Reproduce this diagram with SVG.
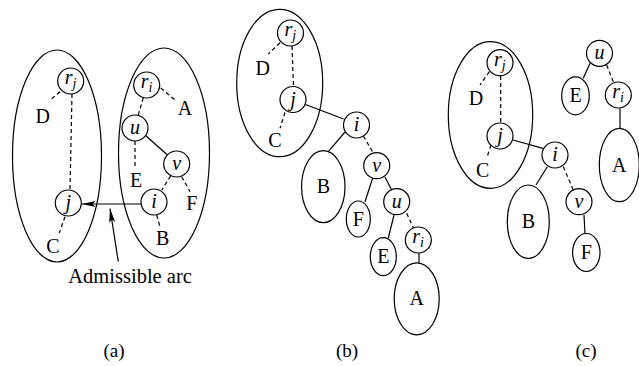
<svg xmlns="http://www.w3.org/2000/svg" width="639" height="366" viewBox="0 0 639 366">
<style>
.sh{fill:none;stroke:#000;stroke-width:1.2}
.nd{fill:#fff;stroke:#000;stroke-width:1.2}
.s{stroke:#000;stroke-width:1.2;fill:none}
.d{stroke:#000;stroke-width:1.2;fill:none;stroke-dasharray:4,3}
.t{font-family:"Liberation Serif","Times New Roman",serif;font-size:20px;text-anchor:middle;fill:#000}
.it{font-family:"Liberation Serif","Times New Roman",serif;font-size:20px;font-style:italic;fill:#000}
.sub{font-size:14px}
.cap{font-family:"Liberation Serif","Times New Roman",serif;font-size:19px;text-anchor:middle;fill:#000}
</style>
<defs>
<marker id="ah" viewBox="0 0 14 6" refX="14" refY="3" markerWidth="14" markerHeight="6" markerUnits="userSpaceOnUse" orient="auto">
<path d="M0,0 L14,3 L0,6 L3,3 Z" fill="#000"/>
</marker>
</defs>

<!-- Panel (a) -->
<g id="a-group-left"><ellipse class="sh" cx="57" cy="156" rx="44.5" ry="106"/></g>
<g id="a-group-right"><ellipse class="sh" cx="164" cy="153" rx="45.5" ry="105"/></g>
<g id="a-connectors">
<line class="d" x1="60" y1="91.7" x2="49.3" y2="101"/>
<line class="d" x1="72" y1="94" x2="70" y2="190"/>
<line class="d" x1="65" y1="216.7" x2="59.3" y2="233"/>
<line class="d" x1="160.7" y1="88" x2="175" y2="100"/>
<line class="d" x1="143.3" y1="97.7" x2="138.3" y2="115"/>
<line class="d" x1="135" y1="141" x2="135" y2="167"/>
<line class="s" x1="145.5" y1="135.5" x2="167.5" y2="155"/>
<line class="d" x1="181.7" y1="176.7" x2="190" y2="191.7"/>
<line class="d" x1="170.7" y1="176" x2="161.7" y2="190"/>
<line class="d" x1="156.7" y1="215" x2="160" y2="227"/>
<line class="s" x1="141" y1="204" x2="81.5" y2="204" marker-end="url(#ah)"/>
<line class="s" x1="118.3" y1="261.7" x2="110" y2="208.5" marker-end="url(#ah)"/>
</g>
<g id="a-rj"><circle class="nd" cx="70.7" cy="81" r="13"/><text class="it" x="64.7" y="84">r<tspan class="sub" dy="4">j</tspan></text></g>
<g id="a-j"><circle class="nd" cx="68.3" cy="203" r="13"/><text class="it" x="68.3" y="209" text-anchor="middle">j</text></g>
<g id="a-ri"><circle class="nd" cx="146.7" cy="85" r="13"/><text class="it" x="140.7" y="88">r<tspan class="sub" dy="4">i</tspan></text></g>
<g id="a-u"><circle class="nd" cx="135" cy="128" r="13"/><text class="it" x="135" y="134" text-anchor="middle">u</text></g>
<g id="a-v"><circle class="nd" cx="176.7" cy="164" r="13"/><text class="it" x="176.7" y="170" text-anchor="middle">v</text></g>
<g id="a-i"><circle class="nd" cx="154" cy="202" r="13"/><text class="it" x="154" y="208" text-anchor="middle">i</text></g>
<g id="a-D"><text class="t" x="42.7" y="123.3">D</text></g>
<g id="a-C"><text class="t" x="53" y="252.5">C</text></g>
<g id="a-A"><text class="t" x="185" y="114.8">A</text></g>
<g id="a-E"><text class="t" x="136" y="186.8">E</text></g>
<g id="a-F"><text class="t" x="191.7" y="209.8">F</text></g>
<g id="a-B"><text class="t" x="162.7" y="244.8">B</text></g>
<text x="68.3" y="283" font-family="Liberation Serif, Times New Roman, serif" font-size="20.5">Admissible arc</text>

<!-- Panel (b) -->
<g id="b-group"><ellipse class="sh" cx="279.7" cy="83" rx="43" ry="73.7"/></g>
<g id="b-connectors">
<line class="d" x1="280" y1="42.7" x2="268.3" y2="54"/>
<line class="d" x1="292" y1="46" x2="293.5" y2="86.5"/>
<line class="d" x1="285" y1="112.5" x2="280" y2="128.3"/>
<line class="s" x1="305.5" y1="104.5" x2="343.5" y2="119"/>
<line class="s" x1="345" y1="132" x2="328.3" y2="151.7"/>
<line class="d" x1="363.3" y1="136" x2="373.3" y2="153"/>
<line class="s" x1="372.7" y1="178" x2="365" y2="201.7"/>
<line class="s" x1="385" y1="177" x2="391.7" y2="190"/>
<line class="s" x1="394" y1="215" x2="388.3" y2="238"/>
<line class="d" x1="406.7" y1="213.3" x2="413.3" y2="227.7"/>
<line class="s" x1="419" y1="253" x2="419" y2="263"/>
</g>
<g id="b-rj"><circle class="nd" cx="290.5" cy="33" r="13"/><text class="it" x="284.5" y="36">r<tspan class="sub" dy="4">j</tspan></text></g>
<g id="b-j"><circle class="nd" cx="293" cy="99.5" r="13"/><text class="it" x="293" y="105.5" text-anchor="middle">j</text></g>
<g id="b-i"><circle class="nd" cx="356.5" cy="125" r="13"/><text class="it" x="356.5" y="131" text-anchor="middle">i</text></g>
<g id="b-v"><circle class="nd" cx="376.7" cy="165.7" r="13"/><text class="it" x="376.7" y="171.7" text-anchor="middle">v</text></g>
<g id="b-u"><circle class="nd" cx="396.7" cy="201.7" r="13"/><text class="it" x="396.7" y="207.7" text-anchor="middle">u</text></g>
<g id="b-ri"><circle class="nd" cx="418.3" cy="240" r="13"/><text class="it" x="412.3" y="243">r<tspan class="sub" dy="4">i</tspan></text></g>
<g id="b-D"><text class="t" x="262.7" y="75">D</text></g>
<g id="b-C"><text class="t" x="275" y="146.6">C</text></g>
<g id="b-B"><ellipse class="nd" cx="323.3" cy="186.7" rx="21.7" ry="36"/><text class="t" x="323.3" y="193.3">B</text></g>
<g id="b-F"><ellipse class="nd" cx="358.3" cy="219" rx="12" ry="18"/><text class="t" x="358.3" y="225.6">F</text></g>
<g id="b-E"><ellipse class="nd" cx="383.3" cy="256.7" rx="13" ry="19"/><text class="t" x="383.3" y="263.3">E</text></g>
<g id="b-A"><ellipse class="nd" cx="416.7" cy="298.8" rx="22.5" ry="36"/><text class="t" x="416.7" y="305.4">A</text></g>

<!-- Panel (c) -->
<g id="c-group"><ellipse class="sh" cx="490.5" cy="115" rx="42.2" ry="73.3"/></g>
<g id="c-connectors">
<line class="d" x1="489.3" y1="71.7" x2="480" y2="85"/>
<line class="d" x1="500.7" y1="76" x2="500.7" y2="122"/>
<line class="d" x1="491" y1="145" x2="486.7" y2="158.3"/>
<line class="s" x1="513" y1="140" x2="543" y2="148.3"/>
<line class="s" x1="547.3" y1="166.7" x2="536" y2="185"/>
<line class="d" x1="563.3" y1="166.7" x2="573.3" y2="190"/>
<line class="s" x1="584" y1="215" x2="585" y2="233.3"/>
<line class="s" x1="590" y1="63.3" x2="583.3" y2="78.3"/>
<line class="d" x1="606.7" y1="65" x2="613.3" y2="81.7"/>
<line class="s" x1="620" y1="108.3" x2="620" y2="128.3"/>
</g>
<g id="c-rj"><circle class="nd" cx="500" cy="62.7" r="13"/><text class="it" x="494" y="65.7">r<tspan class="sub" dy="4">j</tspan></text></g>
<g id="c-j"><circle class="nd" cx="500" cy="136" r="13"/><text class="it" x="500" y="142" text-anchor="middle">j</text></g>
<g id="c-i"><circle class="nd" cx="555" cy="155" r="13"/><text class="it" x="555" y="161" text-anchor="middle">i</text></g>
<g id="c-v"><circle class="nd" cx="579" cy="201.7" r="13"/><text class="it" x="579" y="207.7" text-anchor="middle">v</text></g>
<g id="c-u"><circle class="nd" cx="599.5" cy="53.3" r="13"/><text class="it" x="599.5" y="59.3" text-anchor="middle">u</text></g>
<g id="c-ri"><circle class="nd" cx="618.3" cy="95" r="13"/><text class="it" x="612.3" y="98">r<tspan class="sub" dy="4">i</tspan></text></g>
<g id="c-D"><text class="t" x="476" y="104.9">D</text></g>
<g id="c-C"><text class="t" x="482.7" y="176.6">C</text></g>
<g id="c-B"><ellipse class="nd" cx="528.3" cy="221.7" rx="21" ry="36.7"/><text class="t" x="528.3" y="228.3">B</text></g>
<g id="c-F"><ellipse class="nd" cx="586.3" cy="252.5" rx="13.7" ry="19"/><text class="t" x="586.3" y="259.1">F</text></g>
<g id="c-E"><ellipse class="nd" cx="575.5" cy="95.8" rx="13.8" ry="19"/><text class="t" x="575.5" y="102.4">E</text></g>
<g id="c-A"><ellipse class="nd" cx="619.3" cy="165" rx="20" ry="36.7"/><text class="t" x="619.3" y="171.6">A</text></g>

<!-- captions -->
<text class="cap" x="114" y="357">(a)</text>
<text class="cap" x="347" y="357">(b)</text>
<text class="cap" x="586" y="357">(c)</text>
</svg>
